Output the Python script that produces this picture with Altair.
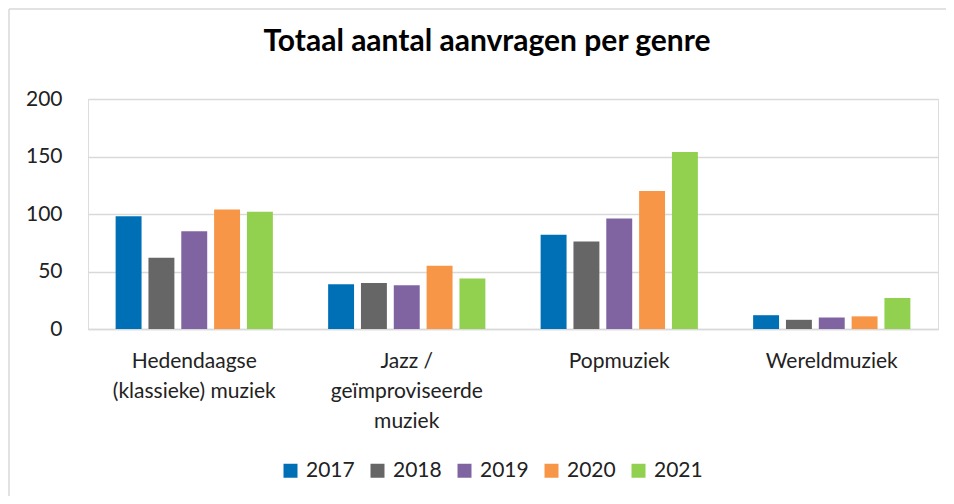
import altair as alt
import pandas as pd

genres = ["Hedendaagse (klassieke) muziek", "Jazz / geïmproviseerde muziek", "Popmuziek", "Wereldmuziek"]
genre_lines = [["Hedendaagse", "(klassieke) muziek"], ["Jazz /", "geïmproviseerde", "muziek"], ["Popmuziek"], ["Wereldmuziek"]]
years = ["2017", "2018", "2019", "2020", "2021"]
v2017 = [98, 39, 82, 12]
v2018 = [62, 40, 76, 8]
v2019 = [85, 38, 96, 10]
v2020 = [104, 55, 120, 11]
v2021 = [102, 44, 154, 27]
colors = ["#0070b6", "#666666", "#8064a2", "#f79646", "#92d050"]
y_ticks = [0, 50, 100, 150, 200]

series = [v2017, v2018, v2019, v2020, v2021]
rows = []
for y, vals in zip(years, series):
    for g, v in zip(genres, vals):
        rows.append({"genre": g, "jaar": y, "aantal": v})
df = pd.DataFrame(rows)

def js_list(lines):
    return "[" + ",".join("'" + s.replace("'", "\\'") + "'" for s in lines) + "]"

expr = "datum.label"
for g, lines in reversed(list(zip(genres, genre_lines))):
    expr = f"datum.value == '{g}' ? {js_list(lines)} : ({expr})"

FONT = "Lato"

bars = alt.Chart(df).mark_bar().encode(
    x=alt.X("genre:N", sort=genres, title=None,
            scale=alt.Scale(paddingInner=0.26, paddingOuter=0.13),
            axis=alt.Axis(labelAngle=0, labelExpr=expr, labelFontSize=21, labelFont=FONT,
                          labelColor="#222222", labelLineHeight=30, labelPadding=21,
                          ticks=False, domain=True, domainColor="#d9d9d9", domainWidth=1.5,
                          grid=False, labelLimit=300)),
    xOffset=alt.XOffset("jaar:N", sort=years, scale=alt.Scale(paddingInner=0.21)),
    y=alt.Y("aantal:Q", title=None,
            scale=alt.Scale(domain=[0, 200], nice=False),
            axis=alt.Axis(values=y_ticks, labelFontSize=21, labelFont=FONT, labelColor="#222222",
                          ticks=False, tickSize=0, labelPadding=26, domain=False,
                          grid=True, gridColor="#d9d9d9", gridWidth=1.5)),
    color=alt.Color("jaar:N", sort=years, scale=alt.Scale(domain=years, range=colors),
                    legend=alt.Legend(title=None, orient="none", direction="horizontal",
                                      legendX=192, legendY=361, symbolType="square",
                                      symbolSize=196, symbolStrokeWidth=0, labelFontSize=21,
                                      labelFont=FONT, labelColor="#222222", labelOffset=5,
                                      columnPadding=12, padding=0)),
)

border_top = alt.Chart().mark_rule(color="#d9d9d9", strokeWidth=1.5).encode(
    x=alt.value(-79), x2=alt.value(870), y=alt.value(-90))
border_left = alt.Chart().mark_rule(color="#d9d9d9", strokeWidth=1.5).encode(
    x=alt.value(-79), y=alt.value(-90), y2=alt.value(410))

chart = alt.layer(border_top, border_left, bars).properties(
    width=850, height=230,
    title=alt.TitleParams("Totaal aantal aanvragen per genre", font=FONT, fontSize=30,
                          fontWeight="bold", color="#000000", anchor="middle", frame="group",
                          dx=-26, offset=-73, baseline="alphabetic"),
    autosize=alt.AutoSizeParams(type="none"),
    padding={"left": 80, "top": 91, "right": 8, "bottom": 167},
).configure_view(stroke=None).configure(background="white")

chart.save("out.html", embed_options={"renderer": "svg", "actions": False})
